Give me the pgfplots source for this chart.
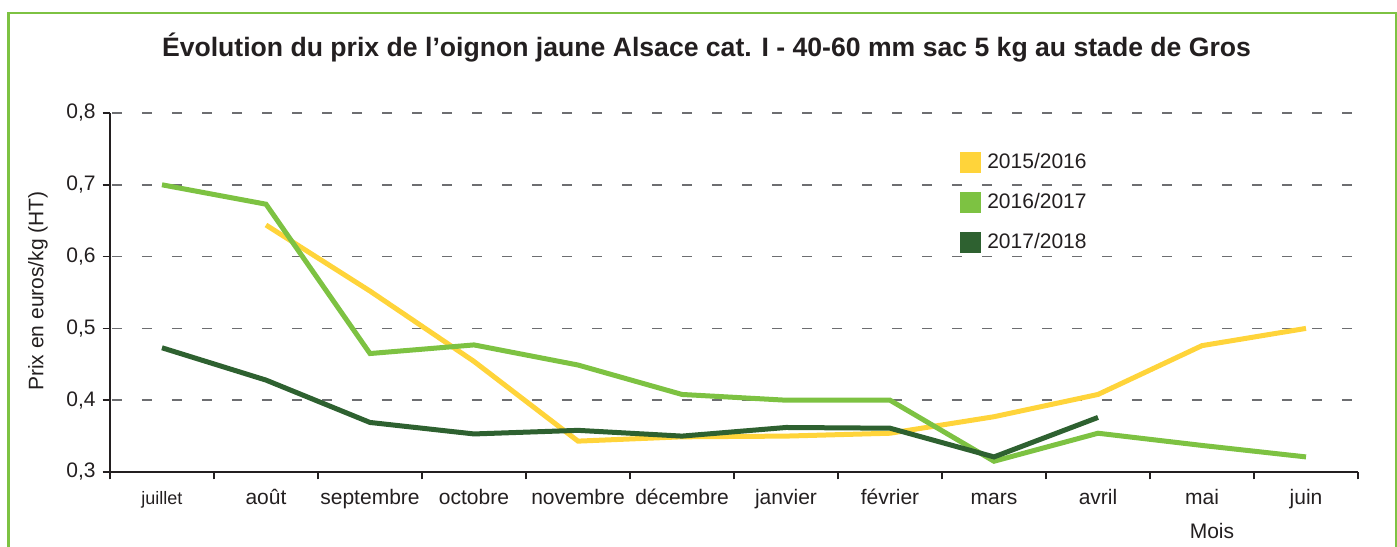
\documentclass[border=0pt]{standalone}
\usepackage{fontspec}
\setmainfont{Liberation Sans}
\usepackage{pgfplots}
\pgfplotsset{compat=1.18}
\definecolor{cYellow}{HTML}{FFD43A}
\definecolor{cLight}{HTML}{7DC242}
\definecolor{cDark}{HTML}{2E6130}
\definecolor{cText}{HTML}{231F20}
\definecolor{cGrid}{HTML}{6D6E71}
\begin{document}
\begin{tikzpicture}
\path[use as bounding box] (0,0) rectangle (698.5pt,273pt);
\draw[cLight, line width=1.2pt] (4.15pt,-2pt) -- (4.15pt,266.5pt) -- (698pt,266.5pt) -- (698pt,-2pt);
\node[font=\fontsize{13.3}{15}\selectfont\bfseries, text=cText, anchor=base] at (353.25pt,244.5pt) {Évolution du prix de l’oignon jaune Alsace cat. I - 40-60 mm sac 5 kg au stade de Gros};
\begin{axis}[
  at={(55pt,37pt)}, anchor=south west,
  scale only axis, width=624pt, height=179.5pt,
  xmin=-0.5, xmax=11.5, ymin=0.3, ymax=0.8,
  axis x line*=bottom, axis y line*=left,
  axis line style={cText, line width=0.75pt, -},
  xtick={-0.5,0.5,...,11.5},
  x tick label as interval,
  xticklabels={{\fontsize{9}{10}\selectfont juillet},août,septembre,octobre,novembre,décembre,janvier,février,mars,avril,mai,juin},
  ytick={0.3,0.4,0.5,0.6,0.7,0.8},
  yticklabels={{0,3},{0,4},{0,5},{0,6},{0,7},{0,8}},
  ymajorgrids,
  grid style={cGrid, dash pattern=on 5pt off 10pt, dash phase=-1pt, line width=0.75pt},
  tick align=outside, major tick length=3.7pt,
  tick style={cText, line width=0.75pt},
  ticklabel style={font=\fontsize{10.5}{12}\selectfont, text=cText},
  x tick label style={text height=8pt, text depth=2.5pt, yshift=-1pt},
  xlabel={Mois},
  xlabel style={at={(axis description cs:0.883,0)}, anchor=base, yshift=-33pt, font=\fontsize{10.5}{12}\selectfont, text=cText},
  ylabel={Prix en euros/kg (HT)},
  ylabel style={at={(axis description cs:0,0.504)}, yshift=36pt, anchor=center, font=\fontsize{10.5}{12}\selectfont, text=cText},
  legend style={at={(axis description cs:0.681,0.893)}, anchor=north west, draw=none, fill=none,
    font=\fontsize{10.5}{12}\selectfont, text=cText, inner sep=0pt, row sep=9.6pt, column sep=3pt,
    nodes={inner sep=0pt}},
  legend cell align=left,
  legend image code/.code={\fill[#1] (0pt,-4pt) rectangle (8pt,4pt);},
]
\addplot[cYellow, line width=2.5pt] coordinates {
(1,0.644) (2,0.552) (3,0.454) (4,0.343) (5,0.349) (6,0.350) (7,0.354) (8,0.377) (9,0.408) (10,0.476) (11,0.500)};
\addlegendentry{2015/2016}
\addplot[cLight, line width=2.5pt] coordinates {
(0,0.700) (1,0.673) (2,0.465) (3,0.477) (4,0.449) (5,0.408) (6,0.400) (7,0.400) (8,0.315) (9,0.354) (10,0.337) (11,0.321)};
\addlegendentry{2016/2017}
\addplot[cDark, line width=2.5pt] coordinates {
(0,0.473) (1,0.428) (2,0.369) (3,0.353) (4,0.358) (5,0.350) (6,0.362) (7,0.361) (8,0.321) (9,0.376)};
\addlegendentry{2017/2018}
\end{axis}
\end{tikzpicture}
\end{document}
